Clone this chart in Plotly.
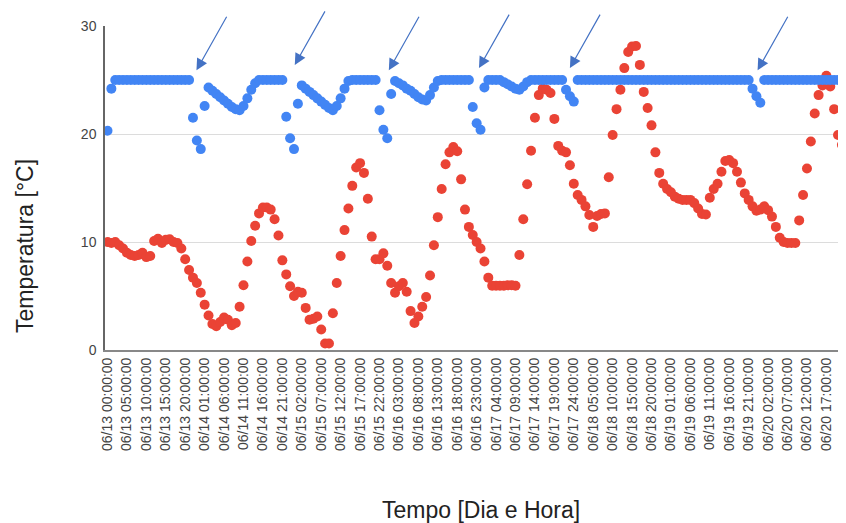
import plotly.graph_objects as go

# ---- data -------------------------------------------------------------
days = ["06/13", "06/14", "06/15", "06/16", "06/17", "06/18", "06/19", "06/20"]
categories = [f"{d} {h:02d}:00:00" for d in days for h in range(24)]
categories[120] = "06/17 24:00:00"   # label used by the source instead of 06/18 00
categories = categories[:191]

tick_labels = [
    "06/13 00:00:00", "06/13 05:00:00", "06/13 10:00:00", "06/13 15:00:00", "06/13 20:00:00",
    "06/14 01:00:00", "06/14 06:00:00", "06/14 11:00:00", "06/14 16:00:00", "06/14 21:00:00",
    "06/15 02:00:00", "06/15 07:00:00", "06/15 12:00:00", "06/15 17:00:00", "06/15 22:00:00",
    "06/16 03:00:00", "06/16 08:00:00", "06/16 13:00:00", "06/16 18:00:00", "06/16 23:00:00",
    "06/17 04:00:00", "06/17 09:00:00", "06/17 14:00:00", "06/17 19:00:00", "06/17 24:00:00",
    "06/18 05:00:00", "06/18 10:00:00", "06/18 15:00:00", "06/18 20:00:00",
    "06/19 01:00:00", "06/19 06:00:00", "06/19 11:00:00", "06/19 16:00:00", "06/19 21:00:00",
    "06/20 02:00:00", "06/20 07:00:00", "06/20 12:00:00", "06/20 17:00:00", "06/20 22:00:00",
]

temp_interna = [
    20.3, 24.2, 25, 25, 25, 25, 25, 25, 25, 25,
    25, 25, 25, 25, 25, 25, 25, 25, 25, 25,
    25, 25, 21.5, 19.4, 18.6, 22.6, 24.3, 24.0, 23.7, 23.4,
    23.1, 22.8, 22.5, 22.3, 22.2, 22.6, 23.3, 24.1, 24.7, 25,
    25, 25, 25, 25, 25, 25, 21.6, 19.6, 18.6, 22.8,
    24.5, 24.2, 23.9, 23.6, 23.3, 23.0, 22.7, 22.4, 22.2, 22.6,
    23.3, 24.2, 24.9, 25, 25, 25, 25, 25, 25, 25,
    22.2, 20.4, 19.6, 23.7, 24.9, 24.7, 24.5, 24.2, 24.0, 23.7,
    23.4, 23.2, 23.1, 23.6, 24.3, 24.9, 25, 25, 25, 25,
    25, 25, 25, 25, 22.5, 21.0, 20.4, 24.3, 25, 25,
    25, 25, 24.8, 24.6, 24.4, 24.2, 24.1, 24.4, 24.8, 25,
    25, 25, 25, 25, 25, 25, 25, 25, 24.1, 23.5,
    23.0, 25, 25, 25, 25, 25, 25, 25, 25, 25,
    25, 25, 25, 25, 25, 25, 25, 25, 25, 25,
    25, 25, 25, 25, 25, 25, 25, 25, 25, 25,
    25, 25, 25, 25, 25, 25, 25, 25, 25, 25,
    25, 25, 25, 25, 25, 25, 24.2, 23.5, 22.9, 25,
    25, 25, 25, 25, 25, 25, 25, 25, 25, 25,
    25, 25, 25, 25, 25, 25, 25, 25, 25, 25,
    25,
]

temp_externa = [
    10.0, 9.9, 10.0, 9.7, 9.4, 9.0, 8.8, 8.7, 8.8, 9.0,
    8.6, 8.7, 10.1, 10.3, 9.9, 10.2, 10.25, 10.0, 9.9, 9.4,
    8.4, 7.4, 6.7, 6.2, 5.3, 4.2, 3.2, 2.4, 2.2, 2.6,
    3.0, 2.8, 2.3, 2.5, 4.0, 6.0, 8.2, 10.1, 11.5, 12.65,
    13.2, 13.2, 13.0, 12.1, 10.6, 8.3, 7.0, 5.9, 5.0, 5.4,
    5.3, 3.9, 2.8, 2.9, 3.1, 1.9, 0.6, 0.6, 3.4, 6.2,
    8.7, 11.1, 13.1, 15.2, 16.9, 17.3, 16.4, 14.0, 10.5, 8.4,
    8.4, 8.95, 7.8, 6.2, 5.3, 5.9, 6.2, 5.4, 3.6, 2.5,
    3.1, 4.0, 4.9, 6.9, 9.7, 12.3, 14.9, 17.2, 18.3, 18.8,
    18.4, 15.8, 13.0, 11.4, 10.65, 10.0, 9.4, 8.2, 6.7, 5.95,
    5.95, 5.95, 5.95, 6.0, 6.0, 5.95, 8.8, 12.1, 15.35, 18.45,
    21.5, 23.6, 24.2, 24.1, 23.8, 21.4, 18.9, 18.45, 18.3, 17.1,
    15.4, 14.35, 13.9, 13.3, 12.5, 11.4, 12.4, 12.6, 12.65, 16.0,
    19.9, 22.3, 24.1, 26.1, 27.6, 28.1, 28.15, 26.4, 23.9, 22.4,
    20.8, 18.3, 16.4, 15.4, 14.9, 14.6, 14.2, 14.0, 13.9, 13.9,
    13.9, 13.6, 13.1, 12.6, 12.55, 14.1, 14.9, 15.4, 16.5, 17.5,
    17.6, 17.3, 16.5, 15.5, 14.5, 13.9, 13.3, 12.9, 13.0, 13.3,
    12.95, 12.35, 11.4, 10.4, 10.0, 9.9, 9.9, 9.9, 12.0, 14.35,
    16.8, 19.3, 21.9, 23.6, 24.5, 25.4, 24.4, 22.3, 19.9, 19.0,
    18.3,
]

# arrow targets (category index, temperature) marking the gaps in the blue series
arrow_x = [22.9, 48.2, 72.4, 95.6, 119.0, 167.3]
arrow_y = [25.9, 26.4, 25.9, 26.1, 26.1, 25.9]

# ---- figure -----------------------------------------------------------
FONT = "Arial, Liberation Sans, sans-serif"
fig = go.Figure()
fig.add_trace(go.Scatter(
    x=categories[:len(temp_externa)], y=temp_externa, mode="markers",
    marker=dict(color="#EA4335", size=10), showlegend=False))
fig.add_trace(go.Scatter(
    x=categories[:len(temp_interna)], y=temp_interna, mode="markers",
    marker=dict(color="#4285F4", size=10), showlegend=False))

for ax_, ay_ in zip(arrow_x, arrow_y):
    fig.add_annotation(x=ax_, y=ay_, xref="x", yref="y", text="",
                       showarrow=True, arrowhead=2, arrowsize=1.9, arrowwidth=1.2,
                       arrowcolor="#4472C4", ax=31, ay=-55, standoff=0)

# plot area spans window x 105..846, y 26..350 (page has an 8px body margin)
fig.add_annotation(text="Temperatura [°C]", xref="paper", yref="paper",
                   x=(25 - 105) / 741, y=(350 - 246) / 324, xanchor="center", yanchor="middle",
                   textangle=-90, showarrow=False,
                   font=dict(family=FONT, size=23, color="#222"))
fig.add_annotation(text="Tempo [Dia e Hora]", xref="paper", yref="paper",
                   x=(481 - 105) / 741, y=-(510 - 350) / 324, xanchor="center",
                   yanchor="middle", showarrow=False,
                   font=dict(family=FONT, size=23, color="#222"))

fig.update_layout(
    width=838, height=515,
    margin=dict(l=97, r=0, t=18, b=173),
    plot_bgcolor="white", paper_bgcolor="white",
    font=dict(family=FONT, size=14, color="#444"),
)
fig.update_xaxes(
    type="category", categoryorder="array", categoryarray=categories,
    range=[-0.64, 190.05], tickmode="array", tickvals=tick_labels, ticktext=tick_labels,
    tickangle=-90, showgrid=False, showline=True, linecolor="#888", linewidth=2,
    ticks="", ticklabelstandoff=0, tickfont=dict(size=14, color="#444"),
    automargin=False,
)
fig.update_yaxes(
    range=[0, 30], tickvals=[0, 10, 20, 30], showgrid=True, gridcolor="#dcdcdc",
    gridwidth=1, zeroline=False, showline=True, linecolor="#666", linewidth=1.5,
    ticks="", ticklabelstandoff=4, tickfont=dict(size=14, color="#444"),
    automargin=False,
)

fig.write_html("out.html")
